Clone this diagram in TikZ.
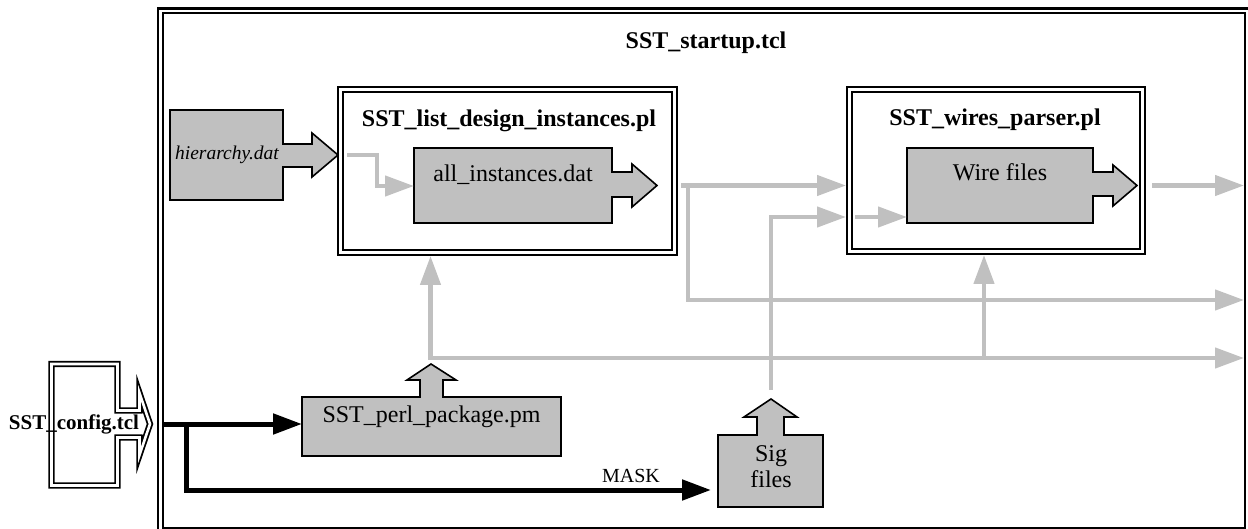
\documentclass[tikz,border=0pt]{standalone}
\usepackage{fontspec}
\setmainfont{Liberation Serif}
\usetikzlibrary{arrows.meta}
\definecolor{boxgray}{RGB}{192,192,192}
\tikzstyle{dframe} = [draw=black, double=white, 
double distance=2.6pt, 
line width=2.2pt]
\tikzstyle{prog} = [rectangle, dframe, 
inner sep=0pt, 
outer sep=3.5pt]
\tikzstyle{filebox} = [draw=black, 
fill=boxgray, 
line width=1.6pt]
\tikzstyle{progname} = [anchor=base, font=\fontsize{24}{26}\selectfont\bfseries]
\tikzstyle{filename} = [anchor=base, font=\fontsize{24}{26}\selectfont]
\tikzstyle{flow} = [draw=boxgray, line width=4.5pt, -{Triangle[length=29pt,width=20pt]}]
\tikzstyle{ctrl} = [draw=black, line width=5pt, -{Triangle[length=29pt,width=20pt]}]

\begin{document}
\begin{tikzpicture}[x=1pt, y=-1pt]
\useasboundingbox (0,0) rectangle (1248,529);

% scripts
\node (startup) [prog, minimum width=1086.5pt, minimum height=519pt] at (703.75,270.5) {};
\node (startuptitle) [progname] at (706,49) {SST\_startup.tcl};
\node (list) [prog, minimum width=334pt, minimum height=163pt] at (507.5,171) {};
\node (listtitle) [progname] at (509,127) {SST\_list\_design\_instances.pl};
\node (wires) [prog, minimum width=293pt, minimum height=162pt] at (996,170.5) {};
\node (wirestitle) [progname] at (995,126) {SST\_wires\_parser.pl};

% config file
\draw [dframe, line width=1.8pt] (51.5,364) -- (117.5,364) -- (117.5,410.5) -- (139.5,410.5) -- (139.5,393) -- (150,424)
  -- (139.5,455) -- (139.5,437.5) -- (117.5,437.5) -- (117.5,485.5) -- (51.5,485.5) -- cycle;
\node (cfg) [anchor=base, font=\fontsize{21}{23}\selectfont\bfseries] at (74,429) {SST\_config.tcl};
\coordinate (cfgtip) at (157,424);

% data files
\draw [filebox] (170,110) -- (283,110) -- (283,144) -- (312,144) -- (312,133) -- (338,155)
  -- (312,177) -- (312,167) -- (283,167) -- (283,200) -- (170,200) -- cycle;
\node (hier) [anchor=base, font=\fontsize{19.5}{21}\selectfont\itshape] at (227,160) {hierarchy.dat};
\coordinate (hiertip) at (338,155);

\draw [filebox] (414,148) -- (612,148) -- (612,172) -- (632,172) -- (632,164) -- (657,185.5)
  -- (632,207) -- (632,197) -- (612,197) -- (612,223) -- (414,223) -- cycle;
\node (alli) [filename] at (513,182) {all\_instances.dat};
\coordinate (allitip) at (657,185.5);
\coordinate (alliin) at (414,186);

\draw [filebox] (907,148) -- (1093,148) -- (1093,172) -- (1113,172) -- (1113,165) -- (1137,185.5)
  -- (1113,206) -- (1113,196) -- (1093,196) -- (1093,223) -- (907,223) -- cycle;
\node (wire) [filename] at (1000,181) {Wire files};
\coordinate (wiretip) at (1137,185.5);
\coordinate (wirein) at (907,217);

\draw [filebox] (302,397) -- (420,397) -- (420,380) -- (407,380) -- (431,364) -- (456,380)
  -- (443,380) -- (443,397) -- (561,397) -- (561,456) -- (302,456) -- cycle;
\node (perl) [filename] at (431.5,422) {SST\_perl\_package.pm};
\coordinate (perltip) at (430.5,364);
\coordinate (perlin) at (302,424);

\draw [filebox] (718,435) -- (757,435) -- (757,417) -- (744,417) -- (771,399) -- (797,417)
  -- (784,417) -- (784,435) -- (823,435) -- (823,507) -- (718,507) -- cycle;
\node (sig) [font=\fontsize{24}{26}\selectfont, align=center, inner sep=0pt] at (771,467) {Sig\\files};
\coordinate (sigtip) at (771,399);
\coordinate (sigin) at (718,490);

% control lines
\draw [ctrl] ([xshift=7pt]cfgtip) -- (perlin);
\draw [ctrl, shorten >=7pt] ([xshift=29pt]cfgtip) |- (sigin);
\node (mask) [anchor=base, font=\fontsize{20}{22}\selectfont] at (631,482) {MASK};

% data flow
\coordinate (busA) at (688,300);
\coordinate (busB) at (430,358);
\coordinate (tap) at (984,358);
\coordinate (rim) at (1244,0);
\draw [flow] ([xshift=9pt]hiertip) -- ++(30,0) |- (alliin);
\draw [flow] ([xshift=24pt]allitip) -- (wires.west |- allitip);
\draw [flow] (busA |- allitip) |- (rim |- busA);
\draw [flow] ([yshift=4pt]perltip) -- (perltip |- list.south);
\draw [flow] (busB) -- (rim |- busB);
\draw [flow] (tap) -- (tap |- wires.south);
\draw [flow] ([yshift=9pt]sigtip) |- (wires.west |- wirein);
\draw [flow] ([xshift=-52pt]wirein) -- (wirein);
\draw [flow] ([xshift=15pt]wiretip) -- (rim |- wiretip);

\end{tikzpicture}
\end{document}
